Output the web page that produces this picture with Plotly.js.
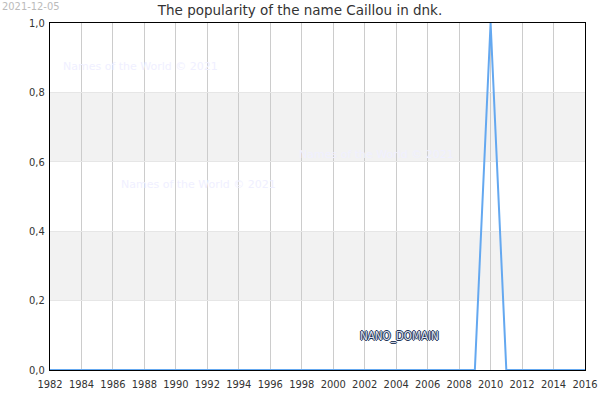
<!DOCTYPE html>
<html>
<head>
<meta charset="utf-8">
<script src="https://cdn.plot.ly/plotly-3.0.1.min.js"></script>
<style>
  body { margin: 0; background: #fff; }
  #chart { width: 600px; height: 400px; }
</style>
</head>
<body>
<div id="chart"></div>
<script>
const years = [1982, 1983, 1984, 1985, 1986, 1987, 1988, 1989, 1990, 1991,
  1992, 1993, 1994, 1995, 1996, 1997, 1998, 1999, 2000, 2001,
  2002, 2003, 2004, 2005, 2006, 2007, 2008, 2009, 2010, 2011,
  2012, 2013, 2014, 2015, 2016];
const popularity = [0, 0, 0, 0, 0, 0, 0, 0, 0, 0,
  0, 0, 0, 0, 0, 0, 0, 0, 0, 0,
  0, 0, 0, 0, 0, 0, 0, 0, 1, 0,
  0, 0, 0, 0, 0];
const yTicks = [0, 0.2, 0.4, 0.6, 0.8, 1.0];
const bands = [[0.2, 0.4], [0.6, 0.8]];

const font = 'DejaVu Sans, sans-serif';
const tickFontFamily = 'DejaVu Sans Condensed, DejaVu Sans, sans-serif';
const watermark = 'Names of the World © 2021';

const trace = {
  x: years,
  y: popularity,
  type: 'scatter',
  mode: 'lines',
  line: {color: '#64a8f0', width: 2},
  hoverinfo: 'skip'
};

const shapes = bands.map(b => ({
  type: 'rect', xref: 'paper', yref: 'y',
  x0: 0, x1: 1, y0: b[0], y1: b[1],
  fillcolor: '#f2f2f2', line: {width: 0}, layer: 'below'
}));

const wmFont = {family: font, size: 11, color: '#f0f0ff'};
const annotations = [
  {text: '2021-12-05', xref: 'paper', yref: 'paper', x: -0.0935, y: 1.048,
   xanchor: 'left', yanchor: 'middle', showarrow: false,
   font: {family: tickFontFamily, size: 11, color: '#bbbbbb'}},
  {text: watermark, xref: 'paper', yref: 'paper', x: 0.021, y: 0.876,
   xanchor: 'left', yanchor: 'middle', showarrow: false, font: wmFont},
  {text: watermark, xref: 'paper', yref: 'paper', x: 0.462, y: 0.620,
   xanchor: 'left', yanchor: 'middle', showarrow: false, font: wmFont},
  {text: watermark, xref: 'paper', yref: 'paper', x: 0.129, y: 0.536,
   xanchor: 'left', yanchor: 'middle', showarrow: false, font: wmFont},
  {text: 'NANO_DOMAIN', xref: 'paper', yref: 'paper', x: 0.654, y: 0.098,
   xanchor: 'center', yanchor: 'middle', showarrow: false,
   font: {family: tickFontFamily, size: 11.5, color: '#dde0ee',
          shadow: '1px 0 0 #223355, -1px 0 0 #223355, 0 1px 0 #223355, 0 -1px 0 #223355'}}
];

const layout = {
  width: 600,
  height: 400,
  margin: {l: 50, r: 15, t: 23, b: 30},
  paper_bgcolor: '#ffffff',
  plot_bgcolor: '#ffffff',
  separators: ', ',
  showlegend: false,
  font: {family: font, size: 11, color: '#333333'},
  title: {
    text: 'The popularity of the name Caillou in dnk.',
    font: {family: font, size: 13.5, color: '#333333'},
    x: 0.5, xanchor: 'center',
    yref: 'container', y: 0.975, yanchor: 'middle'
  },
  xaxis: {
    range: [1982, 2016],
    tickmode: 'linear', tick0: 1982, dtick: 2,
    showgrid: true, gridcolor: '#cccccc', gridwidth: 1,
    showline: true, linecolor: '#000000', linewidth: 1, mirror: true,
    ticks: '', zeroline: false,
    ticklabelstandoff: 4,
    tickfont: {family: tickFontFamily, size: 11, color: '#333333'}
  },
  yaxis: {
    range: [0, 1],
    tickmode: 'array', tickvals: yTicks,
    tickformat: '.1f',
    showgrid: true, gridcolor: '#e6e6e6', gridwidth: 1,
    showline: true, linecolor: '#000000', linewidth: 1, mirror: true,
    ticks: '', zeroline: false,
    ticklabelstandoff: 2,
    tickfont: {family: tickFontFamily, size: 11, color: '#333333'}
  },
  shapes: shapes,
  annotations: annotations
};

Plotly.newPlot('chart', [trace], layout, {staticPlot: true, displayModeBar: false});
</script>
</body>
</html>
